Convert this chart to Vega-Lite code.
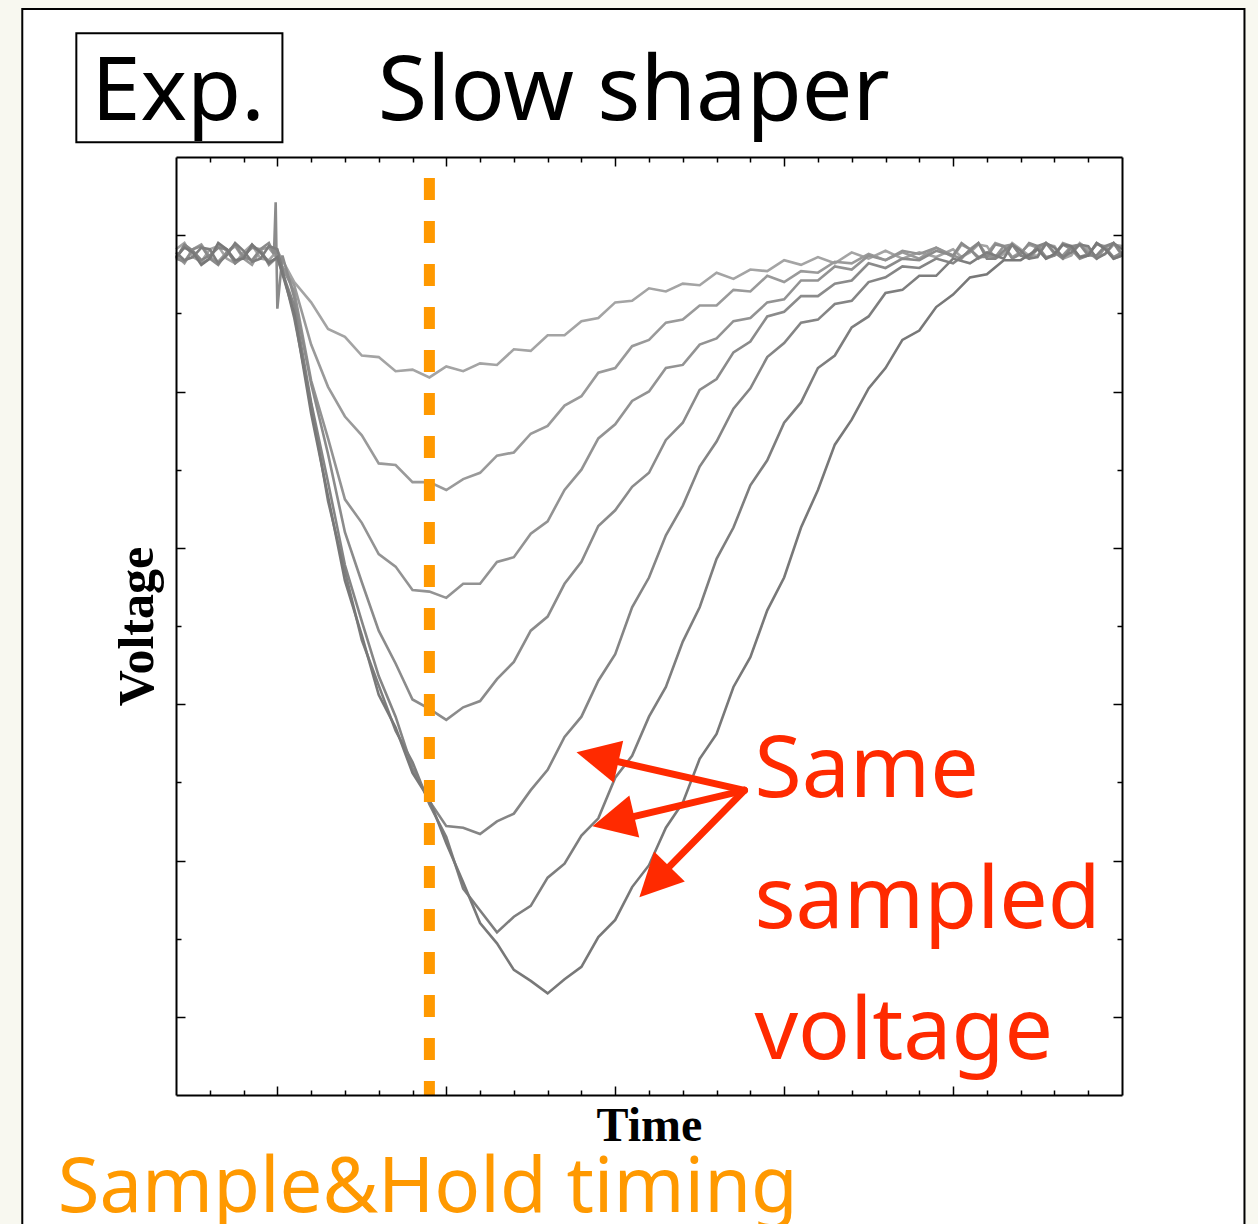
{
  "$schema": "https://vega.github.io/schema/vega-lite/v6.json",
  "width": 946,
  "height": 938,
  "autosize": {"type": "none"},
  "padding": {"left": 176, "top": 157, "right": 136, "bottom": 129},
  "background": "#f8f8f0",
  "config": {
    "view": {"stroke": null},
    "axis": {"labels": false, "grid": false, "domainColor": "#000000", "domainWidth": 2, "tickColor": "#000000", "tickWidth": 1.5, "titleFont": "Liberation Serif", "titleFontWeight": "bold", "titleFontSize": 48, "titleColor": "#000000"}
  },
  "datasets": {
    "traces": [
      {"s":1,"t":-0.6,"v":-0.09},{"s":1,"t":-0.5,"v":-0.14},{"s":1,"t":-0.4,"v":-0.09},{"s":1,"t":-0.3,"v":-0.15},{"s":1,"t":-0.2,"v":-0.11},{"s":1,"t":-0.1,"v":-0.15},{"s":1,"t":0,"v":-0.10},{"s":1,"t":0.1,"v":-0.30},{"s":1,"t":0.2,"v":-0.43},{"s":1,"t":0.3,"v":-0.60},{"s":1,"t":0.4,"v":-0.65},{"s":1,"t":0.5,"v":-0.77},{"s":1,"t":0.6,"v":-0.78},{"s":1,"t":0.7,"v":-0.87},{"s":1,"t":0.8,"v":-0.86},{"s":1,"t":0.9,"v":-0.91},{"s":1,"t":1.0,"v":-0.84},{"s":1,"t":1.1,"v":-0.87},{"s":1,"t":1.2,"v":-0.82},{"s":1,"t":1.3,"v":-0.83},{"s":1,"t":1.4,"v":-0.73},{"s":1,"t":1.5,"v":-0.74},{"s":1,"t":1.6,"v":-0.64},{"s":1,"t":1.7,"v":-0.64},{"s":1,"t":1.8,"v":-0.55},{"s":1,"t":1.9,"v":-0.53},{"s":1,"t":2.0,"v":-0.43},{"s":1,"t":2.1,"v":-0.42},{"s":1,"t":2.2,"v":-0.34},{"s":1,"t":2.3,"v":-0.36},{"s":1,"t":2.4,"v":-0.31},{"s":1,"t":2.5,"v":-0.32},{"s":1,"t":2.6,"v":-0.24},{"s":1,"t":2.7,"v":-0.28},{"s":1,"t":2.8,"v":-0.22},{"s":1,"t":2.9,"v":-0.23},{"s":1,"t":3.0,"v":-0.16},{"s":1,"t":3.1,"v":-0.19},{"s":1,"t":3.2,"v":-0.14},{"s":1,"t":3.3,"v":-0.18},{"s":1,"t":3.4,"v":-0.11},{"s":1,"t":3.5,"v":-0.15},{"s":1,"t":3.6,"v":-0.10},{"s":1,"t":3.7,"v":-0.15},{"s":1,"t":3.8,"v":-0.11},{"s":1,"t":3.9,"v":-0.14},{"s":1,"t":4.0,"v":-0.09},{"s":1,"t":4.1,"v":-0.11},{"s":1,"t":4.2,"v":-0.07},{"s":1,"t":4.3,"v":-0.12},{"s":1,"t":4.4,"v":-0.09},{"s":1,"t":4.5,"v":-0.13},{"s":1,"t":4.6,"v":-0.07},{"s":1,"t":4.7,"v":-0.13},{"s":1,"t":4.8,"v":-0.09},{"s":1,"t":4.9,"v":-0.12},{"s":1,"t":5.0,"v":-0.07},
      {"s":1,"t":-0.55,"v":-0.05},{"s":1,"t":-0.45,"v":-0.17},{"s":1,"t":-0.35,"v":-0.07},{"s":1,"t":-0.25,"v":-0.18},{"s":1,"t":-0.15,"v":-0.06},{"s":1,"t":-0.05,"v":-0.16},
      {"s":1,"t":4.05,"v":-0.14},{"s":1,"t":4.15,"v":-0.06},{"s":1,"t":4.25,"v":-0.15},{"s":1,"t":4.35,"v":-0.05},{"s":1,"t":4.45,"v":-0.13},{"s":1,"t":4.55,"v":-0.06},{"s":1,"t":4.65,"v":-0.15},{"s":1,"t":4.75,"v":-0.05},{"s":1,"t":4.85,"v":-0.14},{"s":1,"t":4.95,"v":-0.06},
      {"s":2,"t":-0.6,"v":-0.13},{"s":2,"t":-0.5,"v":-0.09},{"s":2,"t":-0.4,"v":-0.14},{"s":2,"t":-0.3,"v":-0.11},{"s":2,"t":-0.2,"v":-0.15},{"s":2,"t":-0.1,"v":-0.09},{"s":2,"t":0,"v":-0.15},{"s":2,"t":0.1,"v":-0.32},{"s":2,"t":0.2,"v":-0.70},{"s":2,"t":0.3,"v":-0.97},{"s":2,"t":0.4,"v":-1.16},{"s":2,"t":0.5,"v":-1.28},{"s":2,"t":0.6,"v":-1.46},{"s":2,"t":0.7,"v":-1.47},{"s":2,"t":0.8,"v":-1.58},{"s":2,"t":0.9,"v":-1.58},{"s":2,"t":1.0,"v":-1.63},{"s":2,"t":1.1,"v":-1.56},{"s":2,"t":1.2,"v":-1.52},{"s":2,"t":1.3,"v":-1.41},{"s":2,"t":1.4,"v":-1.39},{"s":2,"t":1.5,"v":-1.27},{"s":2,"t":1.6,"v":-1.22},{"s":2,"t":1.7,"v":-1.09},{"s":2,"t":1.8,"v":-1.03},{"s":2,"t":1.9,"v":-0.88},{"s":2,"t":2.0,"v":-0.85},{"s":2,"t":2.1,"v":-0.71},{"s":2,"t":2.2,"v":-0.67},{"s":2,"t":2.3,"v":-0.56},{"s":2,"t":2.4,"v":-0.54},{"s":2,"t":2.5,"v":-0.45},{"s":2,"t":2.6,"v":-0.45},{"s":2,"t":2.7,"v":-0.35},{"s":2,"t":2.8,"v":-0.36},{"s":2,"t":2.9,"v":-0.26},{"s":2,"t":3.0,"v":-0.30},{"s":2,"t":3.1,"v":-0.23},{"s":2,"t":3.2,"v":-0.24},{"s":2,"t":3.3,"v":-0.17},{"s":2,"t":3.4,"v":-0.18},{"s":2,"t":3.5,"v":-0.12},{"s":2,"t":3.6,"v":-0.16},{"s":2,"t":3.7,"v":-0.11},{"s":2,"t":3.8,"v":-0.15},{"s":2,"t":3.9,"v":-0.08},{"s":2,"t":4.0,"v":-0.14},{"s":2,"t":4.1,"v":-0.09},{"s":2,"t":4.2,"v":-0.12},{"s":2,"t":4.3,"v":-0.07},{"s":2,"t":4.4,"v":-0.11},{"s":2,"t":4.5,"v":-0.08},{"s":2,"t":4.6,"v":-0.13},{"s":2,"t":4.7,"v":-0.07},{"s":2,"t":4.8,"v":-0.12},{"s":2,"t":4.9,"v":-0.07},{"s":2,"t":5.0,"v":-0.13},
      {"s":2,"t":-0.55,"v":-0.18},{"s":2,"t":-0.45,"v":-0.06},{"s":2,"t":-0.35,"v":-0.17},{"s":2,"t":-0.25,"v":-0.07},{"s":2,"t":-0.15,"v":-0.19},{"s":2,"t":-0.05,"v":-0.08},
      {"s":2,"t":4.05,"v":-0.06},{"s":2,"t":4.15,"v":-0.15},{"s":2,"t":4.25,"v":-0.05},{"s":2,"t":4.35,"v":-0.14},{"s":2,"t":4.45,"v":-0.06},{"s":2,"t":4.55,"v":-0.15},{"s":2,"t":4.65,"v":-0.05},{"s":2,"t":4.75,"v":-0.14},{"s":2,"t":4.85,"v":-0.06},{"s":2,"t":4.95,"v":-0.15},
      {"s":3,"t":-0.6,"v":-0.15},{"s":3,"t":-0.5,"v":-0.11},{"s":3,"t":-0.4,"v":-0.15},{"s":3,"t":-0.3,"v":-0.10},{"s":3,"t":-0.2,"v":-0.13},{"s":3,"t":-0.1,"v":-0.09},{"s":3,"t":0,"v":-0.14},{"s":3,"t":0.1,"v":-0.36},{"s":3,"t":0.2,"v":-0.93},{"s":3,"t":0.3,"v":-1.30},{"s":3,"t":0.4,"v":-1.69},{"s":3,"t":0.5,"v":-1.84},{"s":3,"t":0.6,"v":-2.04},{"s":3,"t":0.7,"v":-2.12},{"s":3,"t":0.8,"v":-2.27},{"s":3,"t":0.9,"v":-2.28},{"s":3,"t":1.0,"v":-2.32},{"s":3,"t":1.1,"v":-2.23},{"s":3,"t":1.2,"v":-2.23},{"s":3,"t":1.3,"v":-2.09},{"s":3,"t":1.4,"v":-2.06},{"s":3,"t":1.5,"v":-1.91},{"s":3,"t":1.6,"v":-1.83},{"s":3,"t":1.7,"v":-1.63},{"s":3,"t":1.8,"v":-1.50},{"s":3,"t":1.9,"v":-1.30},{"s":3,"t":2.0,"v":-1.21},{"s":3,"t":2.1,"v":-1.06},{"s":3,"t":2.2,"v":-1.00},{"s":3,"t":2.3,"v":-0.85},{"s":3,"t":2.4,"v":-0.83},{"s":3,"t":2.5,"v":-0.70},{"s":3,"t":2.6,"v":-0.66},{"s":3,"t":2.7,"v":-0.55},{"s":3,"t":2.8,"v":-0.53},{"s":3,"t":2.9,"v":-0.43},{"s":3,"t":3.0,"v":-0.41},{"s":3,"t":3.1,"v":-0.29},{"s":3,"t":3.2,"v":-0.29},{"s":3,"t":3.3,"v":-0.20},{"s":3,"t":3.4,"v":-0.22},{"s":3,"t":3.5,"v":-0.13},{"s":3,"t":3.6,"v":-0.16},{"s":3,"t":3.7,"v":-0.10},{"s":3,"t":3.8,"v":-0.12},{"s":3,"t":3.9,"v":-0.08},{"s":3,"t":4.0,"v":-0.13},{"s":3,"t":4.1,"v":-0.09},{"s":3,"t":4.2,"v":-0.13},{"s":3,"t":4.3,"v":-0.07},{"s":3,"t":4.4,"v":-0.13},{"s":3,"t":4.5,"v":-0.09},{"s":3,"t":4.6,"v":-0.12},{"s":3,"t":4.7,"v":-0.07},{"s":3,"t":4.8,"v":-0.11},{"s":3,"t":4.9,"v":-0.08},{"s":3,"t":5.0,"v":-0.13},
      {"s":3,"t":-0.55,"v":-0.07},{"s":3,"t":-0.45,"v":-0.18},{"s":3,"t":-0.35,"v":-0.06},{"s":3,"t":-0.25,"v":-0.17},{"s":3,"t":-0.15,"v":-0.08},{"s":3,"t":-0.05,"v":-0.19},
      {"s":3,"t":4.05,"v":-0.15},{"s":3,"t":4.15,"v":-0.05},{"s":3,"t":4.25,"v":-0.14},{"s":3,"t":4.35,"v":-0.06},{"s":3,"t":4.45,"v":-0.15},{"s":3,"t":4.55,"v":-0.05},{"s":3,"t":4.65,"v":-0.13},{"s":3,"t":4.75,"v":-0.06},{"s":3,"t":4.85,"v":-0.15},{"s":3,"t":4.95,"v":-0.05},
      {"s":4,"t":-0.6,"v":-0.15},{"s":4,"t":-0.5,"v":-0.09},{"s":4,"t":-0.4,"v":-0.15},{"s":4,"t":-0.3,"v":-0.11},{"s":4,"t":-0.2,"v":-0.14},{"s":4,"t":-0.1,"v":-0.09},{"s":4,"t":-0.02,"v":-0.12},{"s":4,"t":-0.01,"v":0.21},{"s":4,"t":0,"v":-0.47},{"s":4,"t":0.03,"v":-0.13},{"s":4,"t":0.1,"v":-0.40},{"s":4,"t":0.2,"v":-0.95},{"s":4,"t":0.3,"v":-1.40},{"s":4,"t":0.4,"v":-1.90},{"s":4,"t":0.5,"v":-2.22},{"s":4,"t":0.6,"v":-2.53},{"s":4,"t":0.7,"v":-2.74},{"s":4,"t":0.8,"v":-2.97},{"s":4,"t":0.9,"v":-3.03},{"s":4,"t":1.0,"v":-3.10},{"s":4,"t":1.1,"v":-3.02},{"s":4,"t":1.2,"v":-2.98},{"s":4,"t":1.3,"v":-2.84},{"s":4,"t":1.4,"v":-2.73},{"s":4,"t":1.5,"v":-2.53},{"s":4,"t":1.6,"v":-2.44},{"s":4,"t":1.7,"v":-2.23},{"s":4,"t":1.8,"v":-2.09},{"s":4,"t":1.9,"v":-1.86},{"s":4,"t":2.0,"v":-1.76},{"s":4,"t":2.1,"v":-1.61},{"s":4,"t":2.2,"v":-1.52},{"s":4,"t":2.3,"v":-1.31},{"s":4,"t":2.4,"v":-1.20},{"s":4,"t":2.5,"v":-0.99},{"s":4,"t":2.6,"v":-0.92},{"s":4,"t":2.7,"v":-0.75},{"s":4,"t":2.8,"v":-0.68},{"s":4,"t":2.9,"v":-0.52},{"s":4,"t":3.0,"v":-0.49},{"s":4,"t":3.1,"v":-0.39},{"s":4,"t":3.2,"v":-0.39},{"s":4,"t":3.3,"v":-0.31},{"s":4,"t":3.4,"v":-0.29},{"s":4,"t":3.5,"v":-0.18},{"s":4,"t":3.6,"v":-0.21},{"s":4,"t":3.7,"v":-0.15},{"s":4,"t":3.8,"v":-0.16},{"s":4,"t":3.9,"v":-0.10},{"s":4,"t":4.0,"v":-0.13},{"s":4,"t":4.1,"v":-0.09},{"s":4,"t":4.2,"v":-0.14},{"s":4,"t":4.3,"v":-0.07},{"s":4,"t":4.4,"v":-0.12},{"s":4,"t":4.5,"v":-0.07},{"s":4,"t":4.6,"v":-0.13},{"s":4,"t":4.7,"v":-0.09},{"s":4,"t":4.8,"v":-0.13},{"s":4,"t":4.9,"v":-0.08},{"s":4,"t":5.0,"v":-0.11},
      {"s":4,"t":-0.55,"v":-0.17},{"s":4,"t":-0.45,"v":-0.07},{"s":4,"t":-0.35,"v":-0.19},{"s":4,"t":-0.25,"v":-0.06},{"s":4,"t":-0.15,"v":-0.16},{"s":4,"t":-0.05,"v":-0.05},
      {"s":4,"t":4.05,"v":-0.05},{"s":4,"t":4.15,"v":-0.14},{"s":4,"t":4.25,"v":-0.06},{"s":4,"t":4.35,"v":-0.15},{"s":4,"t":4.45,"v":-0.05},{"s":4,"t":4.55,"v":-0.14},{"s":4,"t":4.65,"v":-0.06},{"s":4,"t":4.75,"v":-0.15},{"s":4,"t":4.85,"v":-0.05},{"s":4,"t":4.95,"v":-0.14},
      {"s":5,"t":-0.6,"v":-0.15},{"s":5,"t":-0.5,"v":-0.10},{"s":5,"t":-0.4,"v":-0.13},{"s":5,"t":-0.3,"v":-0.09},{"s":5,"t":-0.2,"v":-0.14},{"s":5,"t":-0.1,"v":-0.11},{"s":5,"t":0,"v":-0.15},{"s":5,"t":0.1,"v":-0.45},{"s":5,"t":0.2,"v":-1.07},{"s":5,"t":0.3,"v":-1.58},{"s":5,"t":0.4,"v":-2.11},{"s":5,"t":0.5,"v":-2.47},{"s":5,"t":0.6,"v":-2.82},{"s":5,"t":0.7,"v":-3.08},{"s":5,"t":0.8,"v":-3.41},{"s":5,"t":0.9,"v":-3.62},{"s":5,"t":1.0,"v":-3.78},{"s":5,"t":1.1,"v":-3.79},{"s":5,"t":1.2,"v":-3.83},{"s":5,"t":1.3,"v":-3.75},{"s":5,"t":1.4,"v":-3.70},{"s":5,"t":1.5,"v":-3.55},{"s":5,"t":1.6,"v":-3.42},{"s":5,"t":1.7,"v":-3.21},{"s":5,"t":1.8,"v":-3.08},{"s":5,"t":1.9,"v":-2.85},{"s":5,"t":2.0,"v":-2.68},{"s":5,"t":2.1,"v":-2.38},{"s":5,"t":2.2,"v":-2.19},{"s":5,"t":2.3,"v":-1.92},{"s":5,"t":2.4,"v":-1.73},{"s":5,"t":2.5,"v":-1.48},{"s":5,"t":2.6,"v":-1.32},{"s":5,"t":2.7,"v":-1.11},{"s":5,"t":2.8,"v":-0.98},{"s":5,"t":2.9,"v":-0.78},{"s":5,"t":3.0,"v":-0.69},{"s":5,"t":3.1,"v":-0.56},{"s":5,"t":3.2,"v":-0.54},{"s":5,"t":3.3,"v":-0.44},{"s":5,"t":3.4,"v":-0.42},{"s":5,"t":3.5,"v":-0.30},{"s":5,"t":3.6,"v":-0.27},{"s":5,"t":3.7,"v":-0.20},{"s":5,"t":3.8,"v":-0.21},{"s":5,"t":3.9,"v":-0.15},{"s":5,"t":4.0,"v":-0.18},{"s":5,"t":4.1,"v":-0.10},{"s":5,"t":4.2,"v":-0.15},{"s":5,"t":4.3,"v":-0.10},{"s":5,"t":4.4,"v":-0.13},{"s":5,"t":4.5,"v":-0.07},{"s":5,"t":4.6,"v":-0.11},{"s":5,"t":4.7,"v":-0.08},{"s":5,"t":4.8,"v":-0.13},{"s":5,"t":4.9,"v":-0.07},{"s":5,"t":5.0,"v":-0.12},
      {"s":5,"t":-0.55,"v":-0.06},{"s":5,"t":-0.45,"v":-0.16},{"s":5,"t":-0.35,"v":-0.08},{"s":5,"t":-0.25,"v":-0.18},{"s":5,"t":-0.15,"v":-0.07},{"s":5,"t":-0.05,"v":-0.17},
      {"s":5,"t":4.05,"v":-0.14},{"s":5,"t":4.15,"v":-0.05},{"s":5,"t":4.25,"v":-0.15},{"s":5,"t":4.35,"v":-0.06},{"s":5,"t":4.45,"v":-0.14},{"s":5,"t":4.55,"v":-0.05},{"s":5,"t":4.65,"v":-0.15},{"s":5,"t":4.75,"v":-0.06},{"s":5,"t":4.85,"v":-0.13},{"s":5,"t":4.95,"v":-0.05},
      {"s":6,"t":-0.6,"v":-0.11},{"s":6,"t":-0.5,"v":-0.14},{"s":6,"t":-0.4,"v":-0.09},{"s":6,"t":-0.3,"v":-0.13},{"s":6,"t":-0.2,"v":-0.10},{"s":6,"t":-0.1,"v":-0.15},{"s":6,"t":0,"v":-0.09},{"s":6,"t":0.1,"v":-0.53},{"s":6,"t":0.2,"v":-1.08},{"s":6,"t":0.3,"v":-1.70},{"s":6,"t":0.4,"v":-2.15},{"s":6,"t":0.5,"v":-2.59},{"s":6,"t":0.6,"v":-2.88},{"s":6,"t":0.7,"v":-3.17},{"s":6,"t":0.8,"v":-3.37},{"s":6,"t":0.9,"v":-3.64},{"s":6,"t":1.0,"v":-3.85},{"s":6,"t":1.1,"v":-4.18},{"s":6,"t":1.2,"v":-4.32},{"s":6,"t":1.3,"v":-4.46},{"s":6,"t":1.4,"v":-4.36},{"s":6,"t":1.5,"v":-4.29},{"s":6,"t":1.6,"v":-4.11},{"s":6,"t":1.7,"v":-4.02},{"s":6,"t":1.8,"v":-3.84},{"s":6,"t":1.9,"v":-3.73},{"s":6,"t":2.0,"v":-3.47},{"s":6,"t":2.1,"v":-3.33},{"s":6,"t":2.2,"v":-3.08},{"s":6,"t":2.3,"v":-2.89},{"s":6,"t":2.4,"v":-2.60},{"s":6,"t":2.5,"v":-2.38},{"s":6,"t":2.6,"v":-2.07},{"s":6,"t":2.7,"v":-1.87},{"s":6,"t":2.8,"v":-1.60},{"s":6,"t":2.9,"v":-1.44},{"s":6,"t":3.0,"v":-1.20},{"s":6,"t":3.1,"v":-1.07},{"s":6,"t":3.2,"v":-0.85},{"s":6,"t":3.3,"v":-0.77},{"s":6,"t":3.4,"v":-0.59},{"s":6,"t":3.5,"v":-0.52},{"s":6,"t":3.6,"v":-0.37},{"s":6,"t":3.7,"v":-0.35},{"s":6,"t":3.8,"v":-0.26},{"s":6,"t":3.9,"v":-0.26},{"s":6,"t":4.0,"v":-0.15},{"s":6,"t":4.1,"v":-0.18},{"s":6,"t":4.2,"v":-0.11},{"s":6,"t":4.3,"v":-0.15},{"s":6,"t":4.4,"v":-0.10},{"s":6,"t":4.5,"v":-0.14},{"s":6,"t":4.6,"v":-0.08},{"s":6,"t":4.7,"v":-0.11},{"s":6,"t":4.8,"v":-0.07},{"s":6,"t":4.9,"v":-0.12},{"s":6,"t":5.0,"v":-0.09},
      {"s":6,"t":-0.55,"v":-0.16},{"s":6,"t":-0.45,"v":-0.08},{"s":6,"t":-0.35,"v":-0.18},{"s":6,"t":-0.25,"v":-0.05},{"s":6,"t":-0.15,"v":-0.17},{"s":6,"t":-0.05,"v":-0.07},
      {"s":6,"t":4.35,"v":-0.06},{"s":6,"t":4.45,"v":-0.15},{"s":6,"t":4.55,"v":-0.05},{"s":6,"t":4.65,"v":-0.14},{"s":6,"t":4.75,"v":-0.06},{"s":6,"t":4.85,"v":-0.15},{"s":6,"t":4.95,"v":-0.05},
      {"s":7,"t":-0.6,"v":-0.14},{"s":7,"t":-0.5,"v":-0.11},{"s":7,"t":-0.4,"v":-0.15},{"s":7,"t":-0.3,"v":-0.09},{"s":7,"t":-0.2,"v":-0.15},{"s":7,"t":-0.1,"v":-0.11},{"s":7,"t":0,"v":-0.14},{"s":7,"t":0.1,"v":-0.50},{"s":7,"t":0.2,"v":-1.14},{"s":7,"t":0.3,"v":-1.67},{"s":7,"t":0.4,"v":-2.21},{"s":7,"t":0.5,"v":-2.56},{"s":7,"t":0.6,"v":-2.94},{"s":7,"t":0.7,"v":-3.15},{"s":7,"t":0.8,"v":-3.44},{"s":7,"t":0.9,"v":-3.61},{"s":7,"t":1.0,"v":-3.89},{"s":7,"t":1.1,"v":-4.14},{"s":7,"t":1.2,"v":-4.40},{"s":7,"t":1.3,"v":-4.53},{"s":7,"t":1.4,"v":-4.70},{"s":7,"t":1.5,"v":-4.77},{"s":7,"t":1.6,"v":-4.85},{"s":7,"t":1.7,"v":-4.76},{"s":7,"t":1.8,"v":-4.68},{"s":7,"t":1.9,"v":-4.49},{"s":7,"t":2.0,"v":-4.38},{"s":7,"t":2.1,"v":-4.17},{"s":7,"t":2.2,"v":-4.03},{"s":7,"t":2.3,"v":-3.79},{"s":7,"t":2.4,"v":-3.63},{"s":7,"t":2.5,"v":-3.35},{"s":7,"t":2.6,"v":-3.19},{"s":7,"t":2.7,"v":-2.89},{"s":7,"t":2.8,"v":-2.70},{"s":7,"t":2.9,"v":-2.40},{"s":7,"t":3.0,"v":-2.19},{"s":7,"t":3.1,"v":-1.87},{"s":7,"t":3.2,"v":-1.63},{"s":7,"t":3.3,"v":-1.34},{"s":7,"t":3.4,"v":-1.18},{"s":7,"t":3.5,"v":-0.98},{"s":7,"t":3.6,"v":-0.85},{"s":7,"t":3.7,"v":-0.67},{"s":7,"t":3.8,"v":-0.61},{"s":7,"t":3.9,"v":-0.46},{"s":7,"t":4.0,"v":-0.38},{"s":7,"t":4.1,"v":-0.27},{"s":7,"t":4.2,"v":-0.25},{"s":7,"t":4.3,"v":-0.16},{"s":7,"t":4.4,"v":-0.16},{"s":7,"t":4.5,"v":-0.09},{"s":7,"t":4.6,"v":-0.12},{"s":7,"t":4.7,"v":-0.07},{"s":7,"t":4.8,"v":-0.13},{"s":7,"t":4.9,"v":-0.09},{"s":7,"t":5.0,"v":-0.13},
      {"s":7,"t":-0.55,"v":-0.08},{"s":7,"t":-0.45,"v":-0.19},{"s":7,"t":-0.35,"v":-0.05},{"s":7,"t":-0.25,"v":-0.16},{"s":7,"t":-0.15,"v":-0.06},{"s":7,"t":-0.05,"v":-0.18},
      {"s":7,"t":4.55,"v":-0.15},{"s":7,"t":4.65,"v":-0.06},{"s":7,"t":4.75,"v":-0.14},{"s":7,"t":4.85,"v":-0.05},{"s":7,"t":4.95,"v":-0.15}
    ],
    "arrows": [
      {"t":2.765,"v":-3.551,"t2":1.895,"v2":-3.338},
      {"t":2.765,"v":-3.551,"t2":1.989,"v2":-3.75},
      {"t":2.765,"v":-3.551,"t2":2.232,"v2":-4.137}
    ]
  },
  "layer": [
    {
      "data": {"values": [{}]},
      "mark": {"type": "rect", "fill": "#ffffff", "stroke": "#000000", "strokeWidth": 2},
      "encoding": {
        "x": {"datum": -1.51, "type": "quantitative", "axis": null, "scale": {"domain": [-0.6, 5], "nice": false, "zero": false}},
        "x2": {"datum": 5.725},
        "y": {"datum": 1.446, "type": "quantitative", "axis": null, "scale": {"domain": [-5.5, 0.5], "nice": false, "zero": false}},
        "y2": {"datum": -6.6}
      }
    },
    {
      "data": {"values": [{}]},
      "mark": {"type": "rect", "fill": null, "stroke": "#000000", "strokeWidth": 2},
      "encoding": {
        "x": {"datum": -1.19, "type": "quantitative", "axis": null},
        "x2": {"datum": 0.03},
        "y": {"datum": 1.292, "type": "quantitative", "axis": null},
        "y2": {"datum": 0.595}
      }
    },
    {
      "data": {"values": [{}]},
      "mark": {"type": "text", "text": "Exp.", "font": "Noto Sans", "fontSize": 88, "align": "left", "baseline": "alphabetic", "color": "#000000"},
      "encoding": {
        "x": {"datum": -1.1, "type": "quantitative", "axis": null},
        "y": {"datum": 0.736, "type": "quantitative", "axis": null}
      }
    },
    {
      "data": {"values": [{}]},
      "mark": {"type": "text", "text": "Slow shaper", "font": "Noto Sans", "fontSize": 90, "align": "left", "baseline": "alphabetic", "color": "#000000"},
      "encoding": {
        "x": {"datum": 0.595, "type": "quantitative", "axis": null},
        "y": {"datum": 0.736, "type": "quantitative", "axis": null}
      }
    },
    {
      "data": {"name": "traces"},
      "mark": {"type": "line", "strokeWidth": 2.6, "interpolate": "linear"},
      "encoding": {
        "x": {"field": "t", "type": "quantitative", "scale": {"domain": [-0.6, 5], "nice": false, "zero": false},
              "axis": {"orient": "bottom", "zindex": 1, "title": "Time", "titlePadding": 7, "values": [-0.4,-0.2,0,0.2,0.4,0.6,0.8,1,1.2,1.4,1.6,1.8,2,2.2,2.4,2.6,2.8,3,3.2,3.4,3.6,3.8,4,4.2,4.4,4.6,4.8],
                       "tickSize": {"condition": {"test": "datum.value % 1 == 0", "value": -9}, "value": -5}}},
        "y": {"field": "v", "type": "quantitative", "scale": {"domain": [-5.5, 0.5], "nice": false, "zero": false},
              "axis": {"orient": "left", "zindex": 1, "title": "Voltage", "titleFontSize": 50, "titlePadding": 13, "values": [0,-0.5,-1,-1.5,-2,-2.5,-3,-3.5,-4,-4.5,-5],
                       "tickSize": {"condition": {"test": "datum.value % 1 == 0", "value": -9}, "value": -5}}},
        "color": {"field": "s", "type": "nominal", "legend": null,
                  "scale": {"domain": [1,2,3,4,5,6,7], "range": ["#a4a4a4","#9a9a9a","#939393","#8b8b8b","#858585","#7e7e7e","#787878"]}},
        "detail": {"field": "s"},
        "order": {"field": "t", "type": "quantitative"}
      }
    },
    {
      "data": {"values": [{}]},
      "mark": {"type": "rule", "color": "#ff9900", "strokeWidth": 11, "strokeDash": [22, 21]},
      "encoding": {
        "x": {"datum": 0.9, "type": "quantitative",
              "axis": {"orient": "top", "zindex": 1, "title": null, "values": [-0.4,-0.2,0,0.2,0.4,0.6,0.8,1,1.2,1.4,1.6,1.8,2,2.2,2.4,2.6,2.8,3,3.2,3.4,3.6,3.8,4,4.2,4.4,4.6,4.8],
                       "tickSize": {"condition": {"test": "datum.value % 1 == 0", "value": -9}, "value": -5}}},
        "y": {"datum": 0.365, "type": "quantitative",
              "axis": {"orient": "right", "zindex": 1, "title": null, "values": [0,-0.5,-1,-1.5,-2,-2.5,-3,-3.5,-4,-4.5,-5],
                       "tickSize": {"condition": {"test": "datum.value % 1 == 0", "value": -9}, "value": -5}}},
        "y2": {"datum": -5.5}
      }
    },
    {
      "data": {"name": "arrows"},
      "mark": {"type": "rule", "color": "#ff2a00", "strokeWidth": 7, "strokeCap": "round"},
      "encoding": {
        "x": {"field": "t", "type": "quantitative", "axis": null},
        "y": {"field": "v", "type": "quantitative", "axis": null},
        "x2": {"field": "t2"},
        "y2": {"field": "v2"}
      }
    },
    {
      "data": {"values": [{}]},
      "mark": {"type": "point", "shape": "M0,-1L-1,1L1,1Z", "size": 1849, "filled": true, "color": "#ff2a00", "opacity": 1, "angle": 282.7},
      "encoding": {
        "x": {"datum": 1.895, "type": "quantitative", "axis": null},
        "y": {"datum": -3.338, "type": "quantitative", "axis": null}
      }
    },
    {
      "data": {"values": [{}]},
      "mark": {"type": "point", "shape": "M0,-1L-1,1L1,1Z", "size": 1849, "filled": true, "color": "#ff2a00", "opacity": 1, "angle": 256.7},
      "encoding": {
        "x": {"datum": 1.989, "type": "quantitative", "axis": null},
        "y": {"datum": -3.75, "type": "quantitative", "axis": null}
      }
    },
    {
      "data": {"values": [{}]},
      "mark": {"type": "point", "shape": "M0,-1L-1,1L1,1Z", "size": 1849, "filled": true, "color": "#ff2a00", "opacity": 1, "angle": 224.4},
      "encoding": {
        "x": {"datum": 2.232, "type": "quantitative", "axis": null},
        "y": {"datum": -4.137, "type": "quantitative", "axis": null}
      }
    },
    {
      "data": {"values": [{}]},
      "mark": {"type": "text", "text": ["Same", "sampled", "voltage"], "lineHeight": 131, "font": "Noto Sans", "fontSize": 86, "align": "left", "baseline": "alphabetic", "color": "#ff2a00"},
      "encoding": {
        "x": {"datum": 2.824, "type": "quantitative", "axis": null},
        "y": {"datum": -3.596, "type": "quantitative", "axis": null}
      }
    },
    {
      "data": {"values": [{}]},
      "mark": {"type": "text", "text": "Sample&Hold timing", "font": "Noto Sans", "fontSize": 76, "align": "left", "baseline": "alphabetic", "color": "#ff9900"},
      "encoding": {
        "x": {"datum": -1.3, "type": "quantitative", "axis": null},
        "y": {"datum": -6.251, "type": "quantitative", "axis": null}
      }
    }
  ],
  "resolve": {"axis": {"x": "independent", "y": "independent"}}
}
